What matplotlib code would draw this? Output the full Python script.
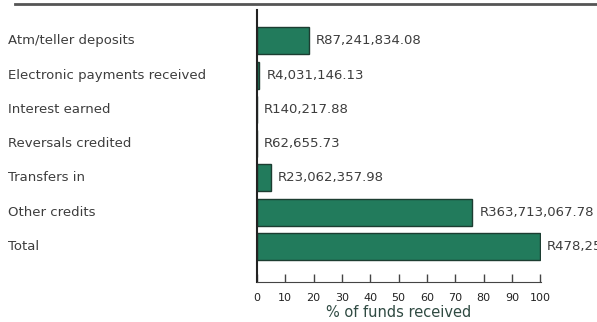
import matplotlib
matplotlib.use("Agg")
import matplotlib.pyplot as plt
from matplotlib.lines import Line2D
from matplotlib.transforms import blended_transform_factory

# Funds received per category (Rand)
categories = ['Atm/teller deposits', 'Electronic payments received', 'Interest earned',
              'Reversals credited', 'Transfers in', 'Other credits', 'Total']
amounts = [87241834.08, 4031146.13, 140217.88, 62655.73,
           23062357.98, 363713067.78, 478251279.58]
xticks = [0, 10, 20, 30, 40, 50, 60, 70, 80, 90, 100]

total = amounts[-1]
percents = [a / total * 100 for a in amounts]

text_color = '#3d3d3d'
bar_color = '#227b5c'
edge_color = '#1c3d31'

plt.rcParams['font.family'] = 'DejaVu Sans'

fig = plt.figure(figsize=(5.97, 3.22), dpi=100)
ax = fig.add_axes([0.4305, 0.124, 0.4757, 0.845])

ypos = list(range(len(categories)))
ax.barh(ypos, percents, height=0.79, color=bar_color, edgecolor=edge_color, linewidth=1.0)

ax.set_xlim(0, 100.3)
ax.set_ylim(7.04, -0.9)

# value labels next to the bars
for y, p, a in zip(ypos, percents, amounts):
    ax.annotate(f"R{a:,.2f}", xy=(p, y), xytext=(5, 0), textcoords='offset points',
                va='center', ha='left', fontsize=9.5, color=text_color,
                annotation_clip=False)

# category labels at the left edge of the figure
trans = blended_transform_factory(fig.transFigure, ax.transData)
for y, c in zip(ypos, categories):
    ax.text(8 / 597, y, c, transform=trans, va='center', ha='left',
            fontsize=9.5, color=text_color)

ax.set_yticks([])
ax.set_xticks(xticks)
ax.set_xticklabels([str(t) for t in xticks], fontsize=8, color='#222222')
ax.tick_params(axis='x', direction='in', length=6, width=1, color='#444444', pad=8)
ax.set_xlabel('% of funds received', fontsize=10.5, color='#2f4a42', labelpad=1)

for s in ['top', 'right']:
    ax.spines[s].set_visible(False)
ax.spines['left'].set_color('#222222')
ax.spines['left'].set_linewidth(1.5)
ax.spines['bottom'].set_color('#444444')

# horizontal rule at the top
fig.add_artist(Line2D([15 / 597, 1], [1 - 4 / 322, 1 - 4 / 322], transform=fig.transFigure,
                      color='#555555', linewidth=2))

fig.savefig('out.png', dpi=100)
plt.close(fig)
